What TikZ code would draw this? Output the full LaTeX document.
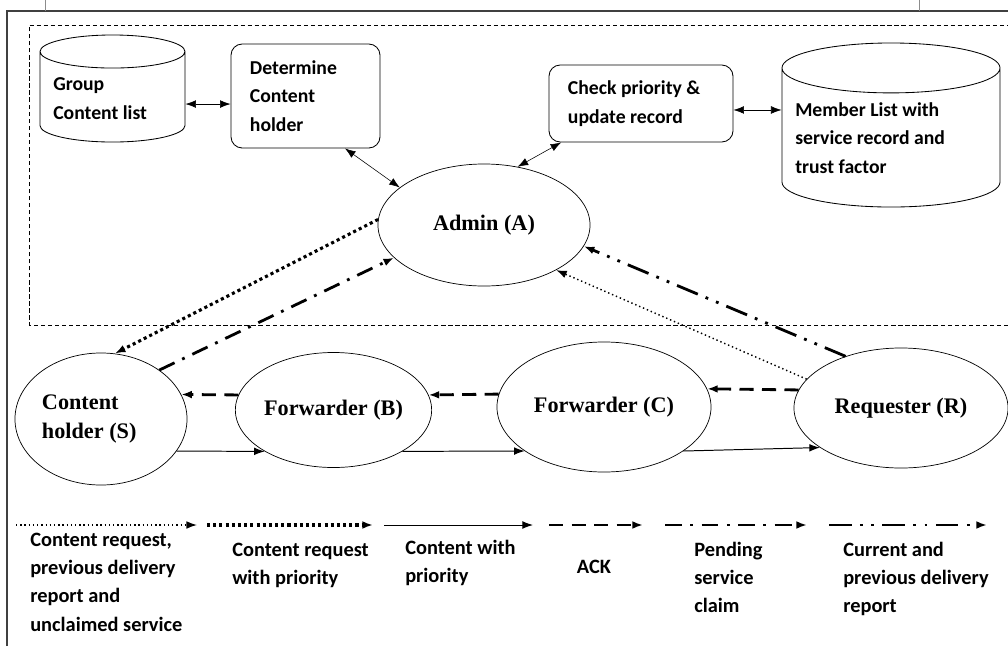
\documentclass[tikz,border=0pt]{standalone}
\usepackage{fontspec}
\setmainfont{Liberation Serif}
\newfontfamily\calib{Carlito}
\usetikzlibrary{positioning, arrows, arrows.meta, shapes.geometric}

\begin{document}
\begin{tikzpicture}[>={Latex[length=7.5pt, width=5.5pt]}, x=0.025cm, y=-0.025cm,
    store/.style={draw, cylinder, shape border rotate=90, inner sep=5pt,
        anchor=shape center, line width=0.6pt},
    storetext/.style={anchor=west, inner sep=0pt, align=left,
        font=\calib\bfseries\fontsize{14}{20.5}\selectfont},
    task/.style={draw, rounded corners=8pt, inner xsep=0.475cm,
        align=flush left, line width=0.6pt,
        font=\calib\bfseries\fontsize{14}{20.5}\selectfont},
    party/.style={draw, ellipse, inner sep=0pt, line width=0.5pt,
        font=\bfseries\fontsize{15.8}{21}\selectfont},
    legtext/.style={anchor=north west, inner sep=0pt, align=left,
        font=\calib\bfseries\fontsize{14.5}{20}\selectfont},
    reqline/.style={->, line width=1pt, dash pattern=on 1pt off 2pt},
    prioline/.style={->, line width=2.2pt, dash pattern=on 2.2pt off 2.2pt},
    contline/.style={->, line width=0.7pt},
    ackline/.style={->, line width=2pt, dash pattern=on 10pt off 6pt},
    claimline/.style={->, line width=2pt,
        dash pattern=on 12pt off 6pt on 2pt off 6pt},
    reportline/.style={->, line width=2pt,
        dash pattern=on 16pt off 6pt on 2pt off 6pt on 2pt off 6pt}
    ]
    \useasboundingbox (0,0) rectangle (1008,646);

    % frame
    \draw[line width=1pt, black!75] (7,646) -- (7,11) -- (1008,11);
    \draw[black!45] (45,0) -- (45,11) (919,0) -- (919,11);
    \draw[line width=0.7pt, dash pattern=on 3pt off 2pt]
        (1008,325) -- (29,325) -- (29,25) -- (1008,25);

    % admin side
    \node[store, aspect=2.35, minimum width=3.625cm, minimum height=2.675cm]
        (gcl) at (112.5,88.5) {};
    \node[storetext] (gclt) at (53,98.5) {Group\\Content list};

    \node[task, minimum height=2.6cm, text width=2.775cm]
        (det) at (305.5,96) {Determine\\Content\\holder};

    \node[task, minimum height=1.925cm, text width=3.65cm]
        (chk) at (641,103.5) {Check priority \&\\update record};

    \node[store, aspect=3.55, minimum width=5.45cm, minimum height=4.1cm]
        (mem) at (891,125) {};
    \node[storetext] (memt) at (795,138)
        {Member List with\\service record and\\trust factor};

    \node[party, minimum width=5.3cm, minimum height=3.05cm]
        (adm) at (484,225) {Admin (A)};

    % members
    \node[party, minimum width=4.3cm, minimum height=3.3cm,
        text width=2.95cm, align=flush left] (src) at (101,419)
        {Content\\holder (S)};

    \node[party, minimum width=4.825cm, minimum height=2.875cm]
        (fwb) at (333.5,410) {Forwarder (B)};

    \node[party, minimum width=5.35cm, minimum height=3.25cm]
        (fwc) at (604,407) {Forwarder (C)};

    \node[party, minimum width=5.35cm, minimum height=3cm]
        (req) at (901,408) {Requester (R)};

    % links
    \coordinate (gclr) at ([yshift=-2.5pt]gcl.east);
    \coordinate (chkr) at ([yshift=-4.6pt]chk.east);
    \draw[<->] (gclr) -- (gclr -| det.west);
    \draw[<->] (det.-53) -- (adm.156);
    \draw[<->] (chk.206) -- (adm.60);
    \draw[<->] (chkr) -- (chkr -| mem.west);

    \draw[prioline] (adm.177) -- (src.78);
    \draw[claimline] (src.40) -- (adm.200);
    \draw[reportline] (req.137) -- (adm.-12);
    \draw[reqline] (req.163) -- (adm.-32);

    \draw[ackline] (req.170) -- (fwc.10);
    \draw[ackline] (fwc.173) -- (fwb.9);
    \draw[ackline] (fwb.171) -- (src.17);

    \draw[contline] (src.-23) -- (fwb.211);
    \draw[contline] (fwb.-31) -- (fwc.209);
    \draw[contline] (fwc.-29) -- (req.206);

    % legend
    \coordinate (k1) at (16,525);  \coordinate (k2) at (197,525);
    \coordinate (k3) at (207,525); \coordinate (k4) at (373,525);
    \coordinate (k5) at (384,525); \coordinate (k6) at (533,525);
    \coordinate (k7) at (549,525); \coordinate (k8) at (643,525);
    \coordinate (k9) at (665,525); \coordinate (k10) at (807,525);
    \coordinate (k11) at (829,525); \coordinate (k12) at (987,525);

    \draw[reqline] (k1) -- (k2);
    \draw[prioline] (k3) -- (k4);
    \draw[contline] (k5) -- (k6);
    \draw[ackline] (k7) -- (k8);
    \draw[claimline] (k9) -- (k10);
    \draw[reportline] (k11) -- (k12);

    \node[legtext] (t1) at (30,533)
        {Content request,\\previous delivery\\report and\\unclaimed service};
    \node[legtext] (t2) at (232,543) {Content request\\with priority};
    \node[legtext] (t3) at (405,540) {Content with\\priority};
    \node[legtext, anchor=center] (t4) at (594,567) {ACK};
    \node[legtext] (t5) at (694,542) {Pending\\service\\claim};
    \node[legtext] (t6) at (843,542) {Current and\\previous delivery\\report};
\end{tikzpicture}
\end{document}
